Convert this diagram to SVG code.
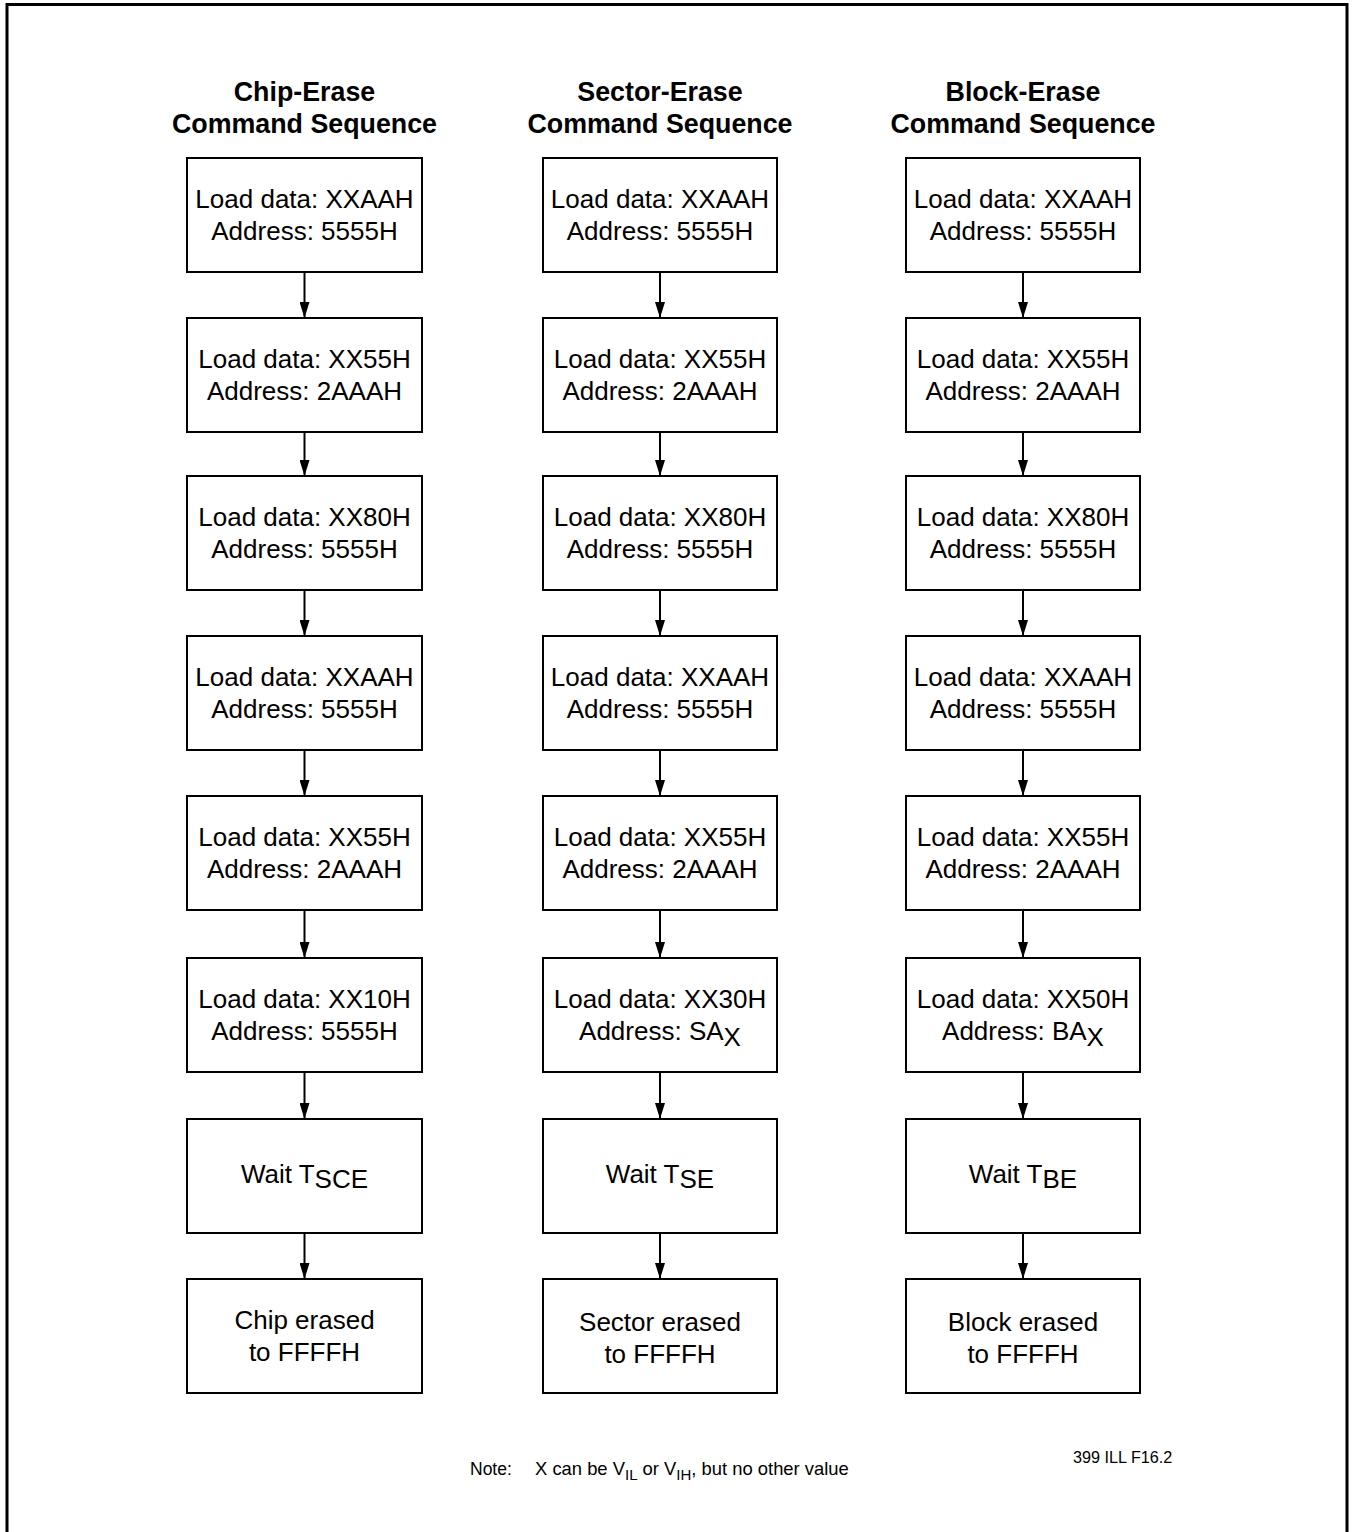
<svg xmlns="http://www.w3.org/2000/svg" width="1352" height="1532" viewBox="0 0 1352 1532">
<style>
.frame{fill:none;stroke:#000;stroke-width:3}
.box{fill:#fff;stroke:#000;stroke-width:2}
.t{font-family:"Liberation Sans",Arial,sans-serif;font-size:26px;fill:#000;text-anchor:middle}
.h{font-family:"Liberation Sans",Arial,sans-serif;font-size:26.8px;font-weight:bold;fill:#000;text-anchor:middle}
.n{font-family:"Liberation Sans",Arial,sans-serif;fill:#000}
.c{stroke:#000;stroke-width:2;fill:none;marker-end:url(#ah)}
</style>
<defs>
<marker id="ah" markerWidth="16" markerHeight="10" refX="16" refY="5" orient="auto" markerUnits="userSpaceOnUse" viewBox="0 0 16 10">
<path d="M0,0 L16,5 L0,10 Z" fill="#000"/>
</marker>
</defs>
<rect width="1352" height="1532" fill="#fff"/>
<rect class="frame" x="7" y="4.5" width="1340" height="1540"/>

<g id="titles">
<text class="h" x="304.5" y="101">Chip-Erase</text>
<text class="h" x="304.5" y="133">Command Sequence</text>
<text class="h" x="660" y="101">Sector-Erase</text>
<text class="h" x="660" y="133">Command Sequence</text>
<text class="h" x="1023" y="101">Block-Erase</text>
<text class="h" x="1023" y="133">Command Sequence</text>
</g>

<g id="connectors">
<path class="c" d="M304.5,272 V318"/>
<path class="c" d="M304.5,432 V476"/>
<path class="c" d="M304.5,590 V636"/>
<path class="c" d="M304.5,750 V796"/>
<path class="c" d="M304.5,910 V958"/>
<path class="c" d="M304.5,1072 V1119"/>
<path class="c" d="M304.5,1233 V1279"/>
<path class="c" d="M660,272 V318"/>
<path class="c" d="M660,432 V476"/>
<path class="c" d="M660,590 V636"/>
<path class="c" d="M660,750 V796"/>
<path class="c" d="M660,910 V958"/>
<path class="c" d="M660,1072 V1119"/>
<path class="c" d="M660,1233 V1279"/>
<path class="c" d="M1023,272 V318"/>
<path class="c" d="M1023,432 V476"/>
<path class="c" d="M1023,590 V636"/>
<path class="c" d="M1023,750 V796"/>
<path class="c" d="M1023,910 V958"/>
<path class="c" d="M1023,1072 V1119"/>
<path class="c" d="M1023,1233 V1279"/>
</g>

<!-- Column 1 -->
<g id="c1-1"><rect class="box" x="187" y="158" width="235" height="114"/><text class="t" x="304.5" y="208">Load data: XXAAH</text><text class="t" x="304.5" y="240">Address: 5555H</text></g>
<g id="c1-2"><rect class="box" x="187" y="318" width="235" height="114"/><text class="t" x="304.5" y="368">Load data: XX55H</text><text class="t" x="304.5" y="400">Address: 2AAAH</text></g>
<g id="c1-3"><rect class="box" x="187" y="476" width="235" height="114"/><text class="t" x="304.5" y="526">Load data: XX80H</text><text class="t" x="304.5" y="558">Address: 5555H</text></g>
<g id="c1-4"><rect class="box" x="187" y="636" width="235" height="114"/><text class="t" x="304.5" y="686">Load data: XXAAH</text><text class="t" x="304.5" y="718">Address: 5555H</text></g>
<g id="c1-5"><rect class="box" x="187" y="796" width="235" height="114"/><text class="t" x="304.5" y="846">Load data: XX55H</text><text class="t" x="304.5" y="878">Address: 2AAAH</text></g>
<g id="c1-6"><rect class="box" x="187" y="958" width="235" height="114"/><text class="t" x="304.5" y="1008">Load data: XX10H</text><text class="t" x="304.5" y="1040">Address: 5555H</text></g>
<g id="c1-7"><rect class="box" x="187" y="1119" width="235" height="114"/><text class="t" x="304.5" y="1183">Wait T<tspan dy="5">SCE</tspan></text></g>
<g id="c1-8"><rect class="box" x="187" y="1279" width="235" height="114"/><text class="t" x="304.5" y="1329">Chip erased</text><text class="t" x="304.5" y="1361">to FFFFH</text></g>

<!-- Column 2 -->
<g id="c2-1"><rect class="box" x="543" y="158" width="234" height="114"/><text class="t" x="660" y="208">Load data: XXAAH</text><text class="t" x="660" y="240">Address: 5555H</text></g>
<g id="c2-2"><rect class="box" x="543" y="318" width="234" height="114"/><text class="t" x="660" y="368">Load data: XX55H</text><text class="t" x="660" y="400">Address: 2AAAH</text></g>
<g id="c2-3"><rect class="box" x="543" y="476" width="234" height="114"/><text class="t" x="660" y="526">Load data: XX80H</text><text class="t" x="660" y="558">Address: 5555H</text></g>
<g id="c2-4"><rect class="box" x="543" y="636" width="234" height="114"/><text class="t" x="660" y="686">Load data: XXAAH</text><text class="t" x="660" y="718">Address: 5555H</text></g>
<g id="c2-5"><rect class="box" x="543" y="796" width="234" height="114"/><text class="t" x="660" y="846">Load data: XX55H</text><text class="t" x="660" y="878">Address: 2AAAH</text></g>
<g id="c2-6"><rect class="box" x="543" y="958" width="234" height="114"/><text class="t" x="660" y="1008">Load data: XX30H</text><text class="t" x="660" y="1040">Address: SA<tspan dy="6">X</tspan></text></g>
<g id="c2-7"><rect class="box" x="543" y="1119" width="234" height="114"/><text class="t" x="660" y="1183">Wait T<tspan dy="5">SE</tspan></text></g>
<g id="c2-8"><rect class="box" x="543" y="1279" width="234" height="114"/><text class="t" x="660" y="1331">Sector erased</text><text class="t" x="660" y="1363">to FFFFH</text></g>

<!-- Column 3 -->
<g id="c3-1"><rect class="box" x="906" y="158" width="234" height="114"/><text class="t" x="1023" y="208">Load data: XXAAH</text><text class="t" x="1023" y="240">Address: 5555H</text></g>
<g id="c3-2"><rect class="box" x="906" y="318" width="234" height="114"/><text class="t" x="1023" y="368">Load data: XX55H</text><text class="t" x="1023" y="400">Address: 2AAAH</text></g>
<g id="c3-3"><rect class="box" x="906" y="476" width="234" height="114"/><text class="t" x="1023" y="526">Load data: XX80H</text><text class="t" x="1023" y="558">Address: 5555H</text></g>
<g id="c3-4"><rect class="box" x="906" y="636" width="234" height="114"/><text class="t" x="1023" y="686">Load data: XXAAH</text><text class="t" x="1023" y="718">Address: 5555H</text></g>
<g id="c3-5"><rect class="box" x="906" y="796" width="234" height="114"/><text class="t" x="1023" y="846">Load data: XX55H</text><text class="t" x="1023" y="878">Address: 2AAAH</text></g>
<g id="c3-6"><rect class="box" x="906" y="958" width="234" height="114"/><text class="t" x="1023" y="1008">Load data: XX50H</text><text class="t" x="1023" y="1040">Address: BA<tspan dy="6">X</tspan></text></g>
<g id="c3-7"><rect class="box" x="906" y="1119" width="234" height="114"/><text class="t" x="1023" y="1183">Wait T<tspan dy="5">BE</tspan></text></g>
<g id="c3-8"><rect class="box" x="906" y="1279" width="234" height="114"/><text class="t" x="1023" y="1331">Block erased</text><text class="t" x="1023" y="1363">to FFFFH</text></g>

<g id="note">
<text class="n" x="470" y="1475" style="font-size:17.5px">Note:</text>
<text class="n" x="535" y="1475" style="font-size:18.4px">X can be V<tspan dy="5" style="font-size:15px">IL</tspan><tspan dy="-5"> or V</tspan><tspan dy="5" style="font-size:15px">IH</tspan><tspan dy="-5">, but no other value</tspan></text>
<text class="n" x="1073" y="1463" style="font-size:16.2px">399 ILL F16.2</text>
</g>
</svg>
